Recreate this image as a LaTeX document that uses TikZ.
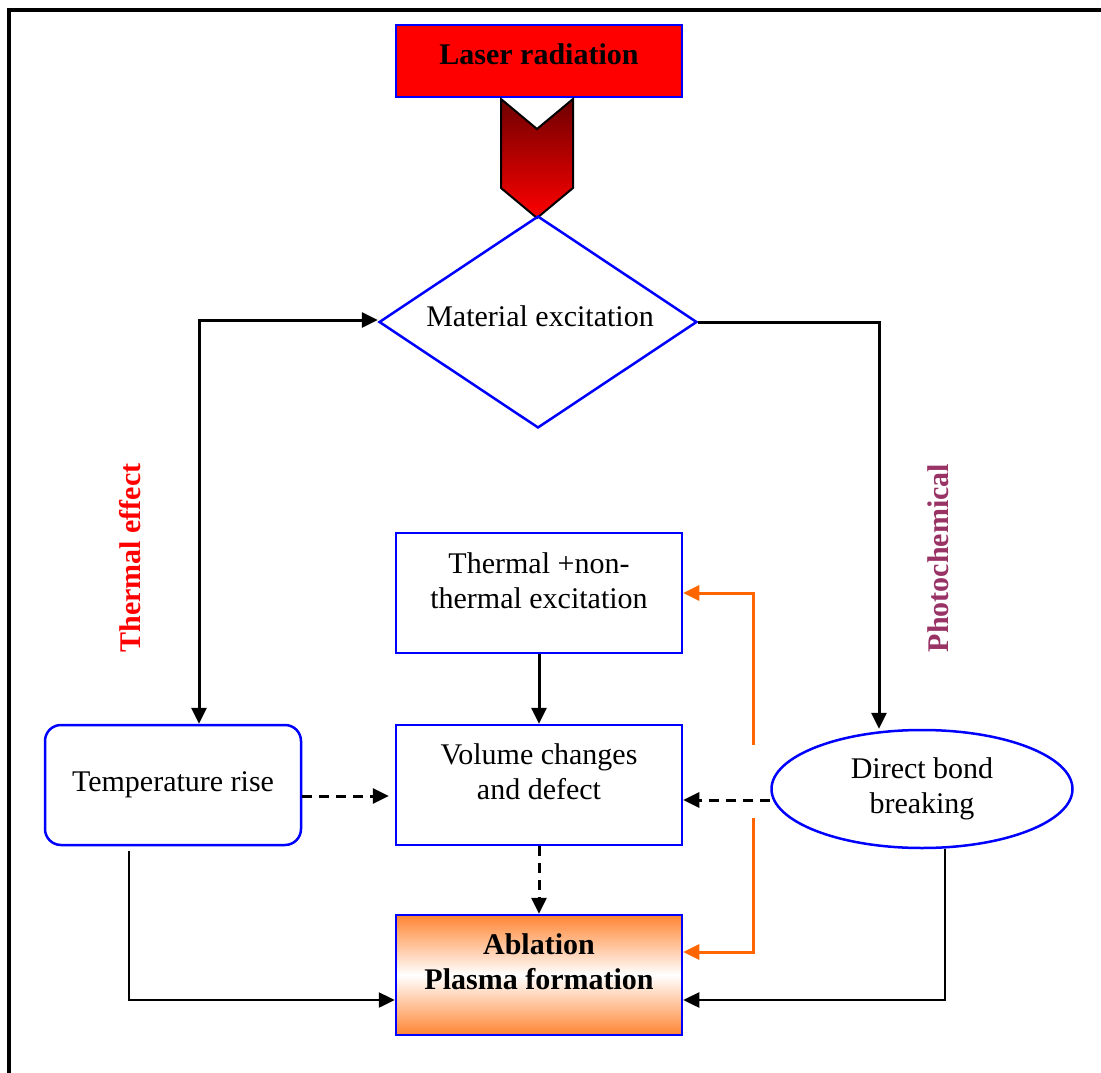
\documentclass[tikz,border=0pt]{standalone}
\usepackage{fontspec}
\setmainfont{Liberation Serif}
\usetikzlibrary{shapes.geometric,arrows.meta}
\definecolor{boxblue}{RGB}{0,0,255}
\definecolor{lineorange}{RGB}{255,102,0}
\definecolor{ablorange}{RGB}{255,133,51}
\definecolor{darkred}{RGB}{110,0,0}
\definecolor{photo}{RGB}{153,51,102}
\begin{document}
\begin{tikzpicture}[x=1pt,y=-1pt,
	font=\fontsize{30}{35}\selectfont,
	>={Triangle[length=16pt,width=15pt]},
	box/.style={draw=boxblue,line width=2.5pt,minimum width=286pt,minimum height=120pt,inner sep=0pt},
	boxtext/.style={align=center,inner sep=0pt},
	sidetext/.style={rotate=90,font=\fontsize{30}{35}\selectfont\bfseries},
	link/.style={line width=3pt,->},
	dlink/.style={link,dash pattern=on 10pt off 7pt},
	olink/.style={link,draw=lineorange}]
	\useasboundingbox (0,0) rectangle (1101,1073);
	\draw[line width=3.5pt] (9,1073) -- (9,10) -- (1101,10);
	\node[box,fill=red,minimum height=72pt] (laser) at (539,61) {};
	\node[boxtext,font=\fontsize{30}{35}\selectfont\bfseries] (lasertext) at (539,54) {Laser radiation};
	\shade[top color=darkred,bottom color=red,draw=black,line width=2pt] (501,99) -- (537,129) -- (573,99) -- (573,188) -- (537,218) -- (501,188) -- cycle;
	\node[diamond,shape aspect=1.5,draw=boxblue,line width=2.5pt,minimum width=318pt,minimum height=212pt,inner sep=0pt] (mat) at (538,322) {};
	\node[boxtext] (mattext) at (540,316) {Material excitation};
	\node[box] (therm) at (539,593) {};
	\node[boxtext] (thermtext) at (539,581) {Thermal +non-\\thermal excitation};
	\node[box] (vol) at (539,785) {};
	\node[boxtext] (voltext) at (539,772) {Volume changes\\and defect};
	\node[box,top color=ablorange,bottom color=ablorange,middle color=white] (abl) at (539,975) {};
	\node[boxtext,font=\fontsize{30}{35}\selectfont\bfseries] (abltext) at (539,962) {Ablation\\Plasma formation};
	\node[box,minimum width=256pt,rounded corners=16pt] (temp) at (173,785) {Temperature rise};
	\node[ellipse,draw=boxblue,line width=2.5pt,minimum width=301pt,minimum height=118pt,inner sep=0pt,align=center] (bond) at (922,789) {Direct bond\\breaking};
	\node[sidetext,text=red] (theff) at (130,558) {Thermal effect};
	\node[sidetext,text=photo] (pheff) at (938,558) {Photochemical};
	\draw[link,<->] ([xshift=26pt]temp.north) |- ([yshift=2pt]mat.west);
	\draw[link] (mat.east) -| ([xshift=-43pt]bond.north);
	\draw[link] (therm) -- (vol);
	\draw[dlink] ([yshift=-11pt]temp.east) -- ([yshift=-11pt,xshift=-6pt]vol.west);
	\draw[dlink] ([yshift=-11pt]bond.west) -- ([yshift=-11pt]bond.west -| vol.east);
	\draw[dlink] (vol) -- (abl);
	\coordinate (up) at (753,745);
	\coordinate (down) at (753,818);
	\draw[olink] (up) |- (therm.east);
	\draw[olink] (down) |- ([yshift=23pt]abl.east);
	\draw[link,line width=2.5pt] ([xshift=-44pt,yshift=-5pt]temp.south) |- ([yshift=-25pt]abl.west);
	\draw[link,line width=2.5pt] ([xshift=23pt]bond.south) |- ([yshift=-25pt]abl.east);
\end{tikzpicture}
\end{document}
